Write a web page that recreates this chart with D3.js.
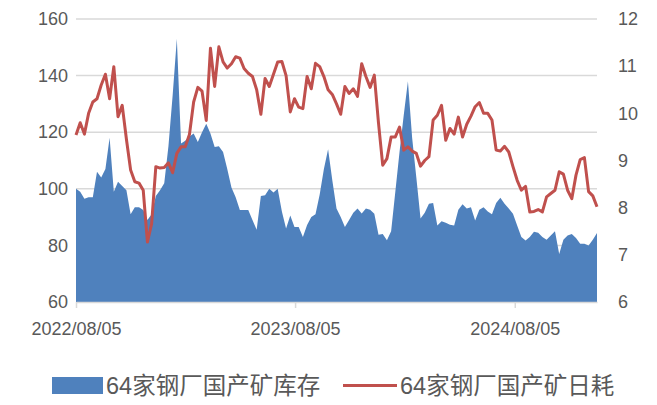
<!DOCTYPE html>
<html>
<head>
<meta charset="utf-8">
<script src="https://cdn.jsdelivr.net/npm/d3@7"></script>
<style>
  html, body { margin: 0; padding: 0; background: #fff; }
  svg { display: block; }
</style>
</head>
<body>
<svg id="chart" width="657" height="405"></svg>
<script>
// Weekly series starting 2022/08/05
const startDate = "2022-08-05";

// 64家钢厂国产矿库存 (left axis)
const inventory = [
  100, 99, 96.5, 97, 97, 106, 104, 107, 118, 99,
  102.5, 101, 99.5, 91, 93.5, 93.5, 92.5, 89, 91, 97.5,
  99.5, 102, 115, 133, 153, 116, 117, 118.5, 119.5, 116.5,
  120, 123, 119.5, 114.8, 115, 113, 107, 100.5, 97, 92.5,
  92.5, 92.5, 89, 85.5, 97.5, 97.7, 100, 98.7, 100, 92,
  86, 90.6, 86.5, 86.5, 83, 87.2, 90, 91, 98, 107,
  114, 103, 93, 90, 86.5, 89, 91.5, 93, 91.3, 93,
  92.6, 91.2, 83.8, 84, 81.8, 85, 99, 113, 126, 138,
  118, 104, 89.5, 91.5, 94.7, 95, 87, 88.5, 88, 87.3,
  87, 92.6, 94.5, 93, 93.5, 88.8, 92.6, 93.5, 92, 91,
  95, 96.8, 94.7, 93, 91.2, 87, 83, 81.7, 83, 84.8,
  84.5, 83, 82, 83.5, 85, 77, 82, 83.5, 84, 82.6,
  80.6, 80.6, 80, 82, 84.4
];

// 64家钢厂国产矿日耗 (right axis)
const consumption = [
  9.54, 9.8, 9.56, 10.0, 10.24, 10.31, 10.6, 10.83, 10.31, 10.99,
  9.93, 10.17, 9.45, 8.8, 8.55, 8.52, 8.37, 7.27, 7.66, 8.87,
  8.84, 8.85, 8.95, 8.74, 9.15, 9.29, 9.29, 9.55, 10.24, 10.55,
  10.47, 9.85, 11.38, 10.57, 11.41, 11.09, 10.96, 11.05, 11.2, 11.17,
  10.95, 10.85, 10.78, 10.5, 9.98, 10.74, 10.57, 10.83, 11.09, 11.1,
  10.8, 10.03, 10.31, 10.13, 10.1, 10.78, 10.52, 11.06, 10.99, 10.78,
  10.5, 10.4, 10.2, 9.98, 10.57, 10.42, 10.52, 10.36, 11.05, 10.78,
  10.55, 10.81, 9.79, 8.9, 9.04, 9.5, 9.5, 9.71, 9.22, 9.29,
  9.2, 9.15, 8.88, 9.0, 9.08, 9.86, 9.96, 10.17, 9.43, 9.68,
  9.56, 9.92, 9.5, 9.77, 9.94, 10.14, 10.23, 10.0, 10.0, 9.86,
  9.22, 9.2, 9.3, 9.18, 8.87, 8.58, 8.37, 8.45, 7.91, 7.92,
  7.96, 7.91, 8.23, 8.3, 8.37, 8.76, 8.71, 8.37, 8.19, 8.69,
  9.02, 9.06, 8.34, 8.25, 8.02
];

const xTickLabels = ["2022/08/05", "2023/08/05", "2024/08/05"];
const leftTicks = [60, 80, 100, 120, 140, 160];
const rightTicks = [6, 7, 8, 9, 10, 11, 12];
const seriesNames = ["64家钢厂国产矿库存", "64家钢厂国产矿日耗"];

const parse = d3.timeParse("%Y-%m-%d");
const parseTick = d3.timeParse("%Y/%m/%d");
const fmt = d3.timeFormat("%Y/%m/%d");
const t0 = parse(startDate);
const dates = inventory.map((_, i) => d3.timeDay.offset(t0, i * 7));
const rows = dates.map((d, i) => ({ date: d, inv: inventory[i], use: consumption[i] }));

const svg = d3.select("#chart");
const m = { left: 76, right: 597, top: 19, bottom: 302 };

const x = d3.scaleTime().domain(d3.extent(dates)).range([m.left, m.right]);
const yL = d3.scaleLinear().domain([60, 160]).range([m.bottom, m.top]);
const yR = d3.scaleLinear().domain([6, 12]).range([m.bottom, m.top]);

const font = "'Liberation Sans', Arial, sans-serif";
const textColor = "#595959";

// horizontal gridlines
svg.append("g")
  .selectAll("line")
  .data(leftTicks.slice(1))
  .join("line")
  .attr("x1", m.left).attr("x2", m.right)
  .attr("y1", d => yL(d)).attr("y2", d => yL(d))
  .attr("stroke", "#d9d9d9").attr("stroke-width", 1.5);

// inventory area
const area = d3.area()
  .x(d => x(d.date))
  .y0(yL(60))
  .y1(d => yL(d.inv));
svg.append("path")
  .datum(rows)
  .attr("d", area)
  .attr("fill", "#4f81bd");

// consumption line
const line = d3.line()
  .x(d => x(d.date))
  .y(d => yR(d.use));
svg.append("path")
  .datum(rows)
  .attr("d", line)
  .attr("fill", "none")
  .attr("stroke", "#c0504d")
  .attr("stroke-width", 3)
  .attr("stroke-linejoin", "round");

// bottom axis
const xAxis = d3.axisBottom(x)
  .tickValues(xTickLabels.map(parseTick))
  .tickFormat(fmt)
  .tickSizeInner(6).tickSizeOuter(0).tickPadding(14);
const gx = svg.append("g").attr("transform", `translate(0,${m.bottom})`).call(xAxis);
gx.select(".domain").attr("stroke", "#d9d9d9").attr("stroke-width", 1.5);
gx.selectAll(".tick line").attr("stroke", "#d9d9d9").attr("stroke-width", 1.5);
gx.selectAll(".tick text").attr("fill", textColor).style("font-family", font).style("font-size", "18px");

// left axis
const gl = svg.append("g").attr("transform", `translate(${m.left},0)`)
  .call(d3.axisLeft(yL).tickValues(leftTicks).tickSize(0).tickPadding(8));
gl.select(".domain").remove();
gl.selectAll(".tick text").attr("fill", textColor).style("font-family", font).style("font-size", "18px");

// right axis
const gr = svg.append("g").attr("transform", `translate(${m.right},0)`)
  .call(d3.axisRight(yR).tickValues(rightTicks).tickFormat(d3.format("d")).tickSize(0).tickPadding(21));
gr.select(".domain").remove();
gr.selectAll(".tick text").attr("fill", textColor).style("font-family", font).style("font-size", "18px");

// legend
const legendFont = "'Liberation Sans', 'Noto Sans CJK SC', sans-serif";
const lg = svg.append("g");
lg.append("rect").attr("x", 52).attr("y", 377).attr("width", 51).attr("height", 17).attr("fill", "#4f81bd");
lg.append("text").attr("x", 106).attr("y", 394)
  .attr("fill", textColor).style("font-family", legendFont).style("font-size", "23.5px")
  .text(seriesNames[0]);
lg.append("line").attr("x1", 343).attr("x2", 397).attr("y1", 385.5).attr("y2", 385.5)
  .attr("stroke", "#c0504d").attr("stroke-width", 3);
lg.append("text").attr("x", 400).attr("y", 394)
  .attr("fill", textColor).style("font-family", legendFont).style("font-size", "23.5px")
  .text(seriesNames[1]);
</script>
</body>
</html>
